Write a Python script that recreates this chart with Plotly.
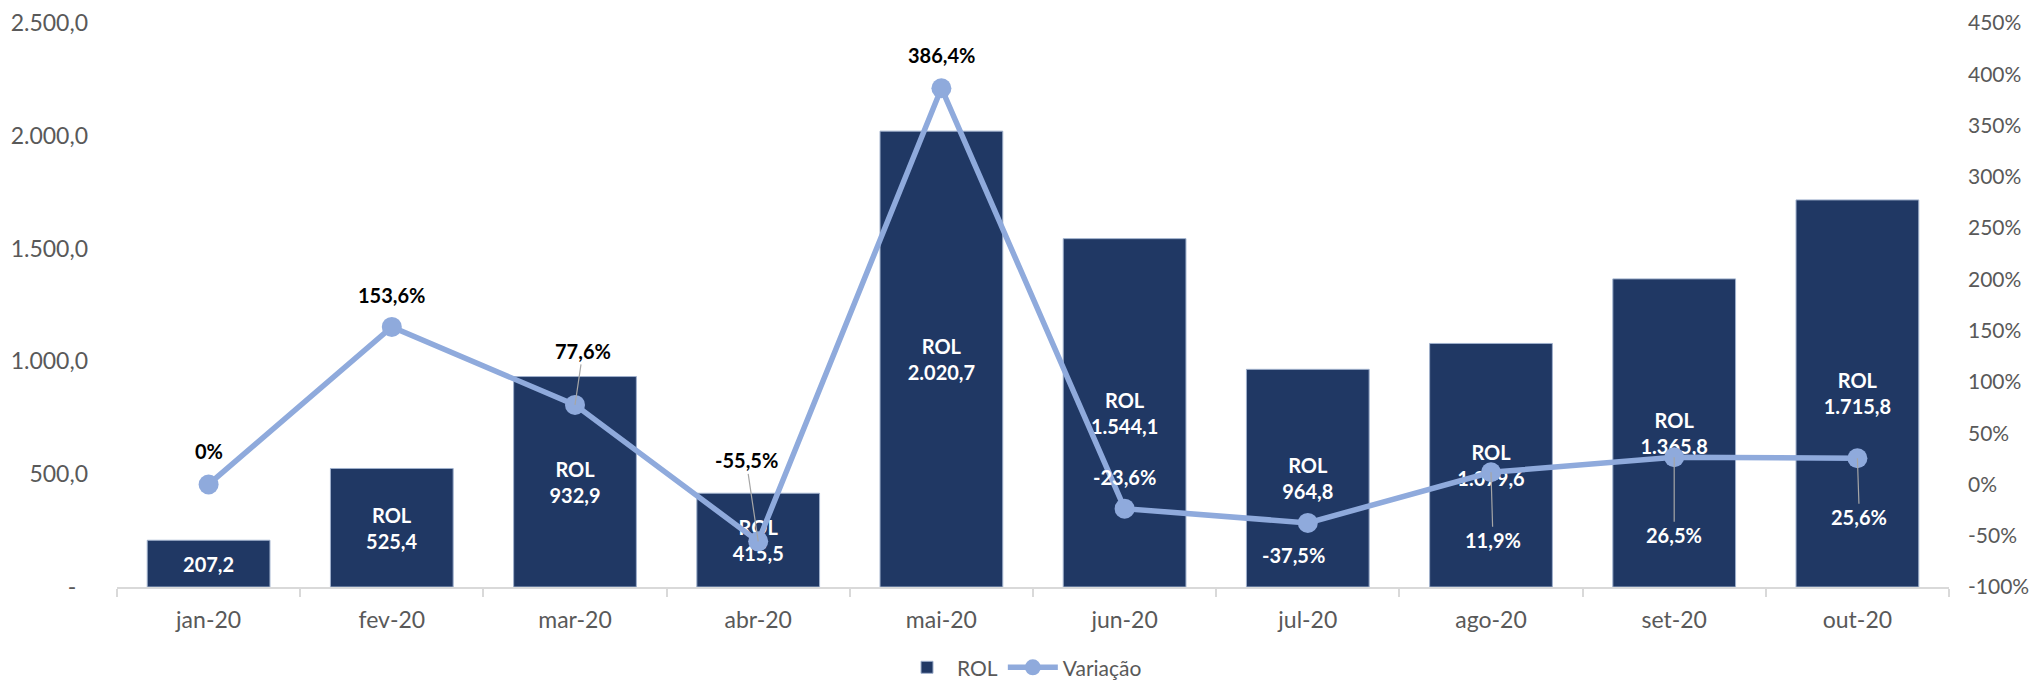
import plotly.graph_objects as go

categories = ["jan-20", "fev-20", "mar-20", "abr-20", "mai-20", "jun-20", "jul-20", "ago-20", "set-20", "out-20"]
rol_values = [207.2, 525.4, 932.9, 415.5, 2020.7, 1544.1, 964.8, 1079.6, 1365.8, 1715.8]
variacao_pct = [0.0, 153.6, 77.6, -55.5, 386.4, -23.6, -37.5, 11.9, 26.5, 25.6]

left_tick_vals = [0, 500, 1000, 1500, 2000, 2500]
left_tick_text = ["-\u00a0\u00a0", "500,0", "1.000,0", "1.500,0", "2.000,0", "2.500,0"]
right_tick_vals = [-100, -50, 0, 50, 100, 150, 200, 250, 300, 350, 400, 450]
right_tick_text = [f"{v}%" for v in right_tick_vals]

FONT = "Lato, 'Open Sans', sans-serif"
GRAY = "#595959"
NAVY = "#203864"
LIGHT = "#8FAADC"


def br_num(v, dec=1):
    s = f"{v:,.{dec}f}"
    return s.replace(",", "X").replace(".", ",").replace("X", ".")


bar_text = []
for i, v in enumerate(rol_values):
    if i == 0:
        bar_text.append(br_num(v))
    else:
        bar_text.append("ROL<br>" + br_num(v))

pct_text = ["0%" if v == 0 else br_num(v) + "%" for v in variacao_pct]

# label placement (style only): pixel offsets, leader line, colour
label_style = [
    dict(ax=0, ay=-33, arrow=False, color="black"),
    dict(ax=0, ay=-32, arrow=False, color="black"),
    dict(ax=8, ay=-54, arrow=True, color="black"),
    dict(ax=-12, ay=-81, arrow=True, color="black"),
    dict(ax=0, ay=-33, arrow=False, color="black"),
    dict(ax=0, ay=-32, arrow=False, color="white"),
    dict(ax=-14, ay=32, arrow=False, color="white"),
    dict(ax=2, ay=68, arrow=True, color="white"),
    dict(ax=0, ay=78, arrow=True, color="white"),
    dict(ax=2, ay=59, arrow=True, color="white"),
]

fig = go.Figure()
fig.add_trace(go.Bar(
    x=categories, y=rol_values, name="ROL",
    marker=dict(color=NAVY, line=dict(color="#9fb0cc", width=1)),
    text=bar_text, textposition="inside", insidetextanchor="middle",
    textfont=dict(family=FONT, size=20, color="white", weight="bold"),
    constraintext="none", cliponaxis=False,
    yaxis="y",
))
fig.add_trace(go.Scatter(
    x=categories, y=variacao_pct, name="Variação", mode="lines+markers",
    line=dict(color=LIGHT, width=5.5),
    marker=dict(color=LIGHT, size=20),
    yaxis="y2",
))

annotations = []
for c, v, t, st in zip(categories, variacao_pct, pct_text, label_style):
    base = dict(x=c, y=v, xref="x", yref="y2", text=f"<b>{t}</b>",
                font=dict(family=FONT, size=20, color=st["color"]))
    if st["arrow"]:
        base.update(showarrow=True, ax=st["ax"], ay=st["ay"], axref="pixel", ayref="pixel",
                    arrowhead=0, arrowwidth=1.2, arrowcolor="#a6a6a6", standoff=0)
    else:
        base.update(showarrow=False, xshift=st["ax"], yshift=-st["ay"])
    annotations.append(base)

fig.update_layout(
    width=2033, height=682,
    margin=dict(l=117, r=84, t=23, b=95, autoexpand=False),
    paper_bgcolor="white", plot_bgcolor="white",
    font=dict(family=FONT, size=23, color=GRAY),
    bargap=0.33,
    separators=",.",
    showlegend=True,
    legend=dict(orientation="h", x=0.494, xanchor="center", y=-0.143, yanchor="middle",
                font=dict(family=FONT, size=21, color=GRAY), itemwidth=50,
                traceorder="normal"),
    xaxis=dict(
        range=[-0.5, len(categories) - 0.5],
        showgrid=False, showline=True, linecolor="#d9d9d9", linewidth=2,
        ticks="outside", tickson="boundaries", ticklen=8, tickcolor="#d9d9d9", tickwidth=2,
        tickfont=dict(family=FONT, size=23, color=GRAY), ticklabelstandoff=11,
        automargin=False,
    ),
    yaxis=dict(
        range=[0, 2500], tickvals=left_tick_vals, ticktext=left_tick_text,
        showgrid=False, showline=False, zeroline=False, ticks="",
        tickfont=dict(family=FONT, size=23, color=GRAY), ticklabelstandoff=28,
        automargin=False,
    ),
    yaxis2=dict(
        range=[-100, 450], tickvals=right_tick_vals, ticktext=right_tick_text,
        overlaying="y", side="right",
        showgrid=False, showline=False, zeroline=False, ticks="",
        tickfont=dict(family=FONT, size=21, color=GRAY), ticklabelstandoff=18,
        automargin=False,
    ),
    annotations=annotations,
)

fig.write_html(
    "out.html",
    config={"displayModeBar": False},
    post_script="document.body.style.margin='0';document.body.style.overflow='hidden';",
)
